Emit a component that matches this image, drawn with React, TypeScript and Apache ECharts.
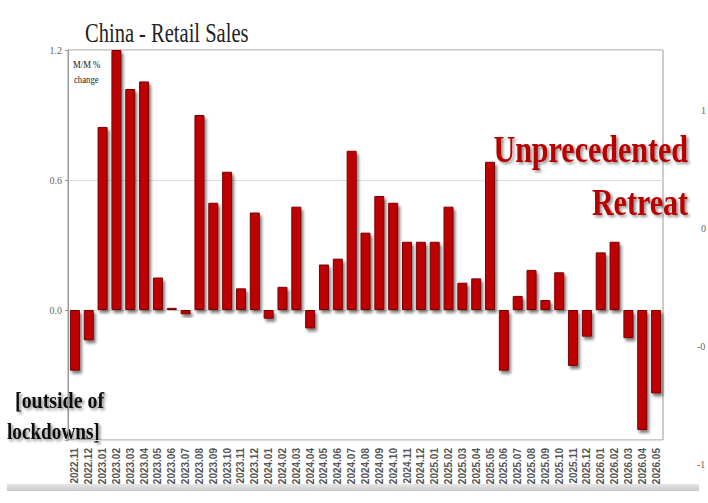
import { useEffect, useRef } from 'react'
import * as echarts from 'echarts'

// months on the x axis
const months = [
  '2022.11', '2022.12',
  '2023.01', '2023.02', '2023.03', '2023.04', '2023.05', '2023.06',
  '2023.07', '2023.08', '2023.09', '2023.10', '2023.11', '2023.12',
  '2024.01', '2024.02', '2024.03', '2024.04', '2024.05', '2024.06',
  '2024.07', '2024.08', '2024.09', '2024.10', '2024.11', '2024.12',
  '2025.01', '2025.02', '2025.03', '2025.04', '2025.05', '2025.06',
  '2025.07', '2025.08', '2025.09', '2025.10', '2025.11', '2025.12',
  '2026.01', '2026.02', '2026.03', '2026.04', '2026.05'
]

// M/M % change
const momChange = [
  -0.28, -0.14,
  0.845, 1.2, 1.02, 1.055, 0.15, 0.01,
  -0.02, 0.9, 0.495, 0.638, 0.1, 0.45,
  -0.04, 0.107, 0.477, -0.085, 0.21, 0.237,
  0.735, 0.357, 0.526, 0.495, 0.315, 0.315,
  0.315, 0.477, 0.126, 0.146, 0.684, -0.28,
  0.065, 0.185, 0.046, 0.174, -0.258, -0.123,
  0.266, 0.315, -0.13, -0.554, -0.385
]

// what is left of the right-hand axis labels at the picture's edge
const rightTicks = ['1', '0', '-0', '-1']

const serif = '"Liberation Serif", "DejaVu Serif", serif'

export default function App() {
  const chartRef = useRef<HTMLDivElement>(null)

  useEffect(() => {
    if (!chartRef.current) return
    document.body.style.margin = '0'

    const chart = echarts.init(chartRef.current, null, { renderer: 'svg' })

    const embossed = {
      textShadowColor: 'rgba(0,0,0,0.45)',
      textShadowBlur: 3,
      textShadowOffsetX: 2,
      textShadowOffsetY: 2
    }

    const option = {
      animation: false,
      backgroundColor: '#ffffff',
      grid: {
        left: 68,
        right: 45,
        top: 50,
        bottom: 63,
        show: true,
        borderColor: '#999',
        borderWidth: 1
      },
      xAxis: {
        type: 'category',
        data: months,
        axisLine: { show: false },
        axisTick: { show: false },
        axisLabel: {
          interval: 0,
          rotate: 90,
          margin: 8,
          fontSize: 10,
          fontWeight: 'bold',
          fontFamily: '"Liberation Sans", Arial, sans-serif',
          color: '#555'
        }
      },
      yAxis: {
        type: 'value',
        min: -0.6,
        max: 1.2,
        interval: 0.6,
        axisLine: { show: true, lineStyle: { color: '#999' } },
        axisTick: { show: true, length: 3, lineStyle: { color: '#999' } },
        splitLine: { show: true, lineStyle: { color: '#ddd' } },
        axisLabel: {
          fontSize: 10,
          fontFamily: serif,
          color: '#666',
          margin: 6,
          formatter: (v: number) => (v < 0 ? '' : v.toFixed(1))
        }
      },
      series: [
        {
          type: 'bar',
          data: momChange,
          barWidth: 10,
          itemStyle: {
            color: '#bf0000',
            borderColor: '#7a0000',
            borderWidth: 1,
            shadowColor: 'rgba(0,0,0,0.5)',
            shadowBlur: 3,
            shadowOffsetX: 2,
            shadowOffsetY: 3
          }
        }
      ],
      graphic: [
        {
          type: 'rect',
          z: -10,
          shape: { x: 7, y: 484, width: 692, height: 7 },
          style: {
            fill: new echarts.graphic.LinearGradient(0, 0, 0, 1, [
              { offset: 0, color: '#e6e6e6' },
              { offset: 1, color: '#cacaca' }
            ])
          }
        },
        {
          type: 'text',
          x: 85,
          y: 33,
          scaleX: 0.76,
          style: {
            text: 'China - Retail Sales',
            font: `27px ${serif}`,
            fill: '#222',
            align: 'left',
            verticalAlign: 'middle'
          }
        },
        {
          type: 'text',
          x: 73,
          y: 65,
          scaleX: 0.87,
          style: { text: 'M/M %', font: `10px ${serif}`, fill: '#222', verticalAlign: 'middle' }
        },
        {
          type: 'text',
          x: 74,
          y: 80,
          scaleX: 0.87,
          style: { text: 'change', font: `10px ${serif}`, fill: '#222', verticalAlign: 'middle' }
        },
        {
          type: 'text',
          x: 688,
          y: 149,
          scaleX: 0.79,
          style: {
            text: 'Unprecedented',
            font: `bold 38px ${serif}`,
            fill: '#b80000',
            align: 'right',
            verticalAlign: 'middle',
            ...embossed
          }
        },
        {
          type: 'text',
          x: 688,
          y: 202,
          scaleX: 0.79,
          style: {
            text: 'Retreat',
            font: `bold 38px ${serif}`,
            fill: '#b80000',
            align: 'right',
            verticalAlign: 'middle',
            ...embossed
          }
        },
        {
          type: 'text',
          x: 15,
          y: 400,
          scaleX: 0.83,
          style: {
            text: '[outside of',
            font: `bold 24px ${serif}`,
            fill: '#111',
            verticalAlign: 'middle',
            ...embossed
          }
        },
        {
          type: 'text',
          x: 7,
          y: 431,
          scaleX: 0.8,
          style: {
            text: 'lockdowns]',
            font: `bold 24px ${serif}`,
            fill: '#111',
            verticalAlign: 'middle',
            ...embossed
          }
        },
        ...rightTicks.map((t, i) => ({
          type: 'text',
          x: t.startsWith('-') ? 697 : 701,
          y: 110 + i * 118,
          style: { text: t, font: `10px ${serif}`, fill: '#666', verticalAlign: 'middle' }
        }))
      ]
    }

    chart.setOption(option)

    return () => {
      chart.dispose()
    }
  }, [])

  return <div ref={chartRef} style={{ width: '708px', height: '503px' }} />
}
